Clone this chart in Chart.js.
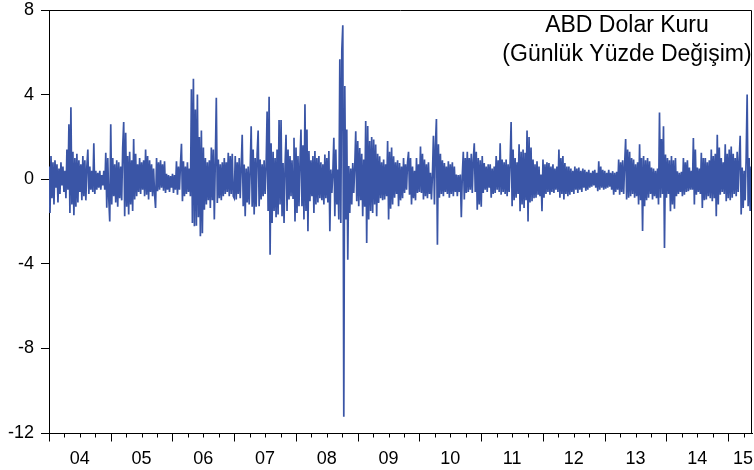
<!DOCTYPE html>
<html>
<head>
<meta charset="utf-8">
<script src="https://cdn.jsdelivr.net/npm/chart.js@4/dist/chart.umd.min.js"></script>
<style>
html,body{margin:0;padding:0;background:#fff;}
canvas{display:block;}
</style>
</head>
<body>
<canvas id="c" width="754" height="470"></canvas>
<script>
// Daily % change of USD/TRY, sampled per pixel column, one array per year
const years = [2004,2005,2006,2007,2008,2009,2010,2011,2012,2013,2014,2015];
const yearLabels = ["04","05","06","07","08","09","10","11","12","13","14","15"];
const yTicks = [-12,-8,-4,0,4,8];
const titleLines = ["ABD Dolar Kuru","(Günlük Yüzde Değişim)"];

const v2004 = [0.6,-1.6,1.1,-0.9,0.8,-1.2,0.9,-0.4,0.7,-1.1,0.5,-0.7,0.8,-0.3,0.6,-0.6,0.4,-0.9,1.4,-0.5,2.6,-1.6,3.4,-1.2,1.3,-1.7,1.0,-1.3,1.2,-1.1,0.9,-0.6,0.7,-1.0,1.1,-0.8,0.9,-1.0,0.6,1.4,-0.7,0.6,-0.5,0.4,-0.6,1.7,-0.7,0.4,-0.5,0.3,-0.4,0.4,-0.5,0.2,-0.3,0.4,-0.5,1.25,-1.35,1.0,-0.9,-2.0];
const v2005 = [2.6,-1.2,1.0,-0.8,0.7,-1.1,0.9,-1.3,0.8,-0.9,0.6,-1.0,1.5,2.7,-1.75,2.2,-1.3,1.1,-1.67,1.3,-1.2,0.9,-1.5,1.9,-0.96,1.2,-0.8,0.7,-0.6,1.0,-0.7,0.8,-0.5,0.9,-0.8,1.4,-0.73,1.1,-0.96,0.9,-0.6,0.7,-0.8,0.5,-0.7,-1.36,1.0,-0.57,0.8,-0.5,0.9,-0.4,0.7,-0.55,0.85,-0.65,0.25,-0.5,0.2,-0.6,0.15,-0.4];
const v2006 = [0.25,-0.65,0.2,-0.5,0.85,-0.73,0.6,-0.5,0.7,1.67,-1.04,0.85,-0.8,0.6,-0.7,0.8,-0.6,0.5,-0.8,4.25,-2.07,4.75,-2.23,3.3,-2.2,4.0,-1.8,2.0,-2.7,2.3,-2.55,1.5,-1.44,1.0,-1.2,0.8,-1.0,0.9,-1.36,1.5,-1.0,1.4,-1.9,0.9,3.85,-1.12,0.93,-0.9,0.7,-1.0,0.8,-0.8,1.0,-0.7,0.8,-0.6,1.25,-0.8,1.1,-0.7,1.2,-0.8];
const v2007 = [-0.9,1.1,-0.96,0.8,-0.7,1.0,-0.9,0.6,2.1,-1.28,0.7,-1.75,0.5,-1.1,0.6,-1.2,0.4,2.5,-1.3,1.4,-1.67,1.0,-1.3,1.2,2.3,-1.28,0.93,-0.96,0.7,-0.8,0.9,-0.7,0.6,3.2,-1.5,3.9,-3.57,1.7,-2.07,1.3,-1.5,1.0,-1.8,1.4,-1.67,2.8,-1.2,2.8,-1.75,0.77,-2.07,0.6,2.1,-1.5,1.4,-0.96,1.1,-0.8,0.9,-0.9,1.96,-2.0];
const v2008 = [1.5,-1.6,1.1,-1.28,0.8,2.35,-1.28,1.6,-1.9,3.54,-1.5,2.35,-2.46,1.33,-1.04,0.9,-0.8,1.1,-1.6,1.33,-1.2,1.0,-1.1,1.1,-0.9,0.8,-1.0,0.7,-1.2,1.17,-0.9,1.0,-1.1,1.33,-2.46,0.46,-0.65,0.3,1.96,-1.75,1.4,-1.2,0.46,-1.9,5.67,-2.07,6.07,7.28,-11.23,4.41,-1.9,2.35,-3.81,0.62,-1.6,0.5,-1.2,0.77,-0.65,0.6,2.27,-1.04];
const v2009 = [1.8,-1.28,1.48,-1.0,1.2,-1.75,0.93,-1.3,2.75,-3.02,2.51,-1.9,1.8,-1.5,2.0,-1.6,1.88,-1.2,1.64,-1.75,1.2,-1.12,1.09,-0.9,0.8,-1.0,0.93,-0.96,0.7,-0.8,1.8,-1.91,1.3,-1.4,1.5,-1.2,1.09,-0.88,0.8,-0.7,0.9,-1.28,0.77,-1.0,0.6,-0.9,1.0,-0.65,0.7,-0.5,0.8,1.3,-0.73,1.0,-1.2,0.6,-0.9,0.4,-1.0,1.0,-0.65,0.7];
const v2010 = [-0.6,1.55,-0.65,1.2,-0.96,0.93,-0.8,0.7,-0.9,0.8,-0.7,0.3,-0.96,0.2,2.05,-1.2,1.6,2.85,-3.1,1.65,-0.88,1.2,-0.7,0.9,-0.8,0.77,-0.6,0.6,-0.7,0.85,-0.88,0.7,-0.7,0.8,-0.8,0.6,-0.6,0.22,-0.8,0.2,-0.6,0.22,-1.8,0.2,1.3,-0.96,1.0,-0.65,1.3,-0.6,1.0,-0.5,1.2,-0.65,0.9,1.7,-0.6,1.3,-1.44,1.0,-1.2,0.9];
const v2011 = [-1.3,1.1,-0.65,0.77,-0.5,0.6,-0.6,0.7,-0.4,0.7,-0.88,0.5,-0.7,0.6,-0.65,1.1,-0.5,0.9,-0.6,1.7,-0.73,0.93,-0.6,0.8,-0.7,0.93,-0.8,0.7,-0.6,0.8,2.7,-1.28,1.4,-1.0,1.0,-0.88,0.8,-0.7,1.65,-1.52,1.3,-1.2,1.4,-1.36,1.25,-1.0,2.3,-2.0,2.0,-1.1,1.5,-1.04,0.93,-0.9,0.7,-0.88,0.85,-0.7,0.6,-0.8,0.22,-1.52];
const v2012 = [0.93,-0.88,0.7,-0.7,0.8,-0.6,0.77,-0.73,0.6,-0.6,0.7,-0.65,0.5,-0.5,0.6,-0.6,1.4,-0.88,1.0,-0.7,1.1,-0.96,0.77,-0.7,0.6,-0.8,0.6,-0.73,0.5,-0.6,0.4,-0.7,0.6,-0.5,0.5,-0.65,0.55,-0.5,0.4,-0.6,0.5,-0.4,0.45,-0.55,0.35,-0.5,0.45,-0.4,0.3,-0.35,0.4,-0.3,0.45,-0.4,0.3,-0.57,0.85,-0.5,0.6,-0.4,0.45,-0.5];
const v2013 = [0.4,-0.45,0.3,-0.4,0.45,-0.35,0.3,-0.5,0.38,-0.73,0.3,-0.6,0.35,-0.5,0.93,-0.73,0.8,-0.6,0.9,-0.7,0.7,1.9,-0.96,1.4,-0.88,1.3,-0.8,1.0,-0.7,0.93,-0.88,0.7,-0.8,0.8,-1.2,1.65,-1.0,1.0,-2.45,1.1,-1.28,0.9,-1.0,1.0,-0.88,0.85,-0.7,0.55,-0.96,0.5,-0.8,0.4,-0.9,0.5,-1.2,3.15,-0.88,1.9,-0.7,2.5,-3.25,1.17];
const v2014 = [-0.88,1.0,-0.7,0.9,-1.52,1.1,-1.2,0.9,-1.4,1.0,-0.8,0.38,-0.7,0.3,-0.6,0.35,-0.8,1.0,-0.73,0.8,-0.6,0.9,-0.57,0.55,-0.5,0.4,-0.5,1.95,-1.2,1.4,-0.73,0.55,-0.6,0.5,-0.7,1.25,-1.36,1.0,-1.0,1.0,-0.96,0.8,-0.8,0.9,-0.9,1.4,-1.04,1.1,-0.9,1.2,-1.75,2.1,-1.2,1.5,-0.73,1.0,-0.6,0.8,-0.7,1.65,-1.04,1.2];
const v2015 = [-0.9,1.4,-1.0,1.55,-0.88,1.2,-0.7,1.0,-0.8,1.3,-0.6,0.9,2.05,-1.67,0.55,-1.36,0.4,-1.0,1.0,4.0,-1.28,1.0,-1.5,0.6];

const seriesByYear = [v2004,v2005,v2006,v2007,v2008,v2009,v2010,v2011,v2012,v2013,v2014,v2015];
const PER_YEAR = 62;
const X_MIN = 2004, X_MAX = 2015.385;

const points = [];
years.forEach((yr, k) => {
  seriesByYear[k].forEach((val, j) => points.push({x: yr + j / PER_YEAR, y: val}));
});

const FONT = "'Liberation Sans', Arial, sans-serif";

const decor = {
  id: 'decor',
  afterDraw(chart) {
    const ctx = chart.ctx, a = chart.chartArea, xs = chart.scales.x;
    ctx.save();
    ctx.strokeStyle = '#000';
    ctx.lineWidth = 1;
    ctx.beginPath();
    ctx.moveTo(Math.round(a.left) + 0.5, Math.round(a.top) + 0.5);
    ctx.lineTo(Math.round(a.right) - 0.5, Math.round(a.top) + 0.5);
    ctx.lineTo(Math.round(a.right) - 0.5, Math.round(a.bottom) + 0.5);
    ctx.stroke();
    const b = Math.round(a.bottom) + 0.5;
    years.forEach(yr => {
      for (let q = 0; q < 4; q++) {
        const v = yr + q / 4;
        if (v > X_MAX + 1e-6) continue;
        const px = Math.round(xs.getPixelForValue(v)) + 0.5;
        ctx.beginPath();
        ctx.moveTo(px, b);
        ctx.lineTo(px, b + (q === 0 ? 8 : 4));
        ctx.stroke();
      }
    });
    ctx.fillStyle = '#000';
    ctx.font = "18px " + FONT;
    ctx.textAlign = 'center';
    ctx.textBaseline = 'alphabetic';
    years.forEach((yr, k) => {
      let px = xs.getPixelForValue(yr + 0.5);
      px = Math.min(px, a.right - 9);
      ctx.fillText(yearLabels[k], px, 464);
    });
    ctx.font = "23px " + FONT;
    ctx.fillText(titleLines[0], 627, 32);
    ctx.fillText(titleLines[1], 627, 61);
    ctx.restore();
  }
};

new Chart(document.getElementById('c'), {
  type: 'line',
  data: {
    datasets: [{
      data: points,
      borderColor: '#3a55a6',
      borderWidth: 1.7,
      pointRadius: 0,
      tension: 0,
      fill: false
    }]
  },
  options: {
    responsive: false,
    animation: false,
    events: [],
    layout: {padding: {top: 10, right: 2, left: 0, bottom: 0}},
    plugins: {legend: {display: false}, tooltip: {enabled: false}},
    scales: {
      x: {
        type: 'linear', min: X_MIN, max: X_MAX,
        grid: {display: false},
        border: {display: true, color: '#000', width: 1},
        ticks: {display: false},
        afterFit(s) { s.height = 37; s.paddingLeft = 0; s.paddingRight = 0; }
      },
      y: {
        min: -12, max: 8,
        afterBuildTicks(s) { s.ticks = yTicks.map(v => ({value: v})); },
        grid: {drawOnChartArea: false, drawTicks: true, tickLength: 8, color: '#000'},
        border: {display: true, color: '#000', width: 1},
        ticks: {color: '#000', padding: 7, font: {family: FONT, size: 18}},
        afterFit(s) { s.width = 49; s.paddingTop = 0; s.paddingBottom = 0; }
      }
    }
  },
  plugins: [decor]
});
</script>
</body>
</html>
